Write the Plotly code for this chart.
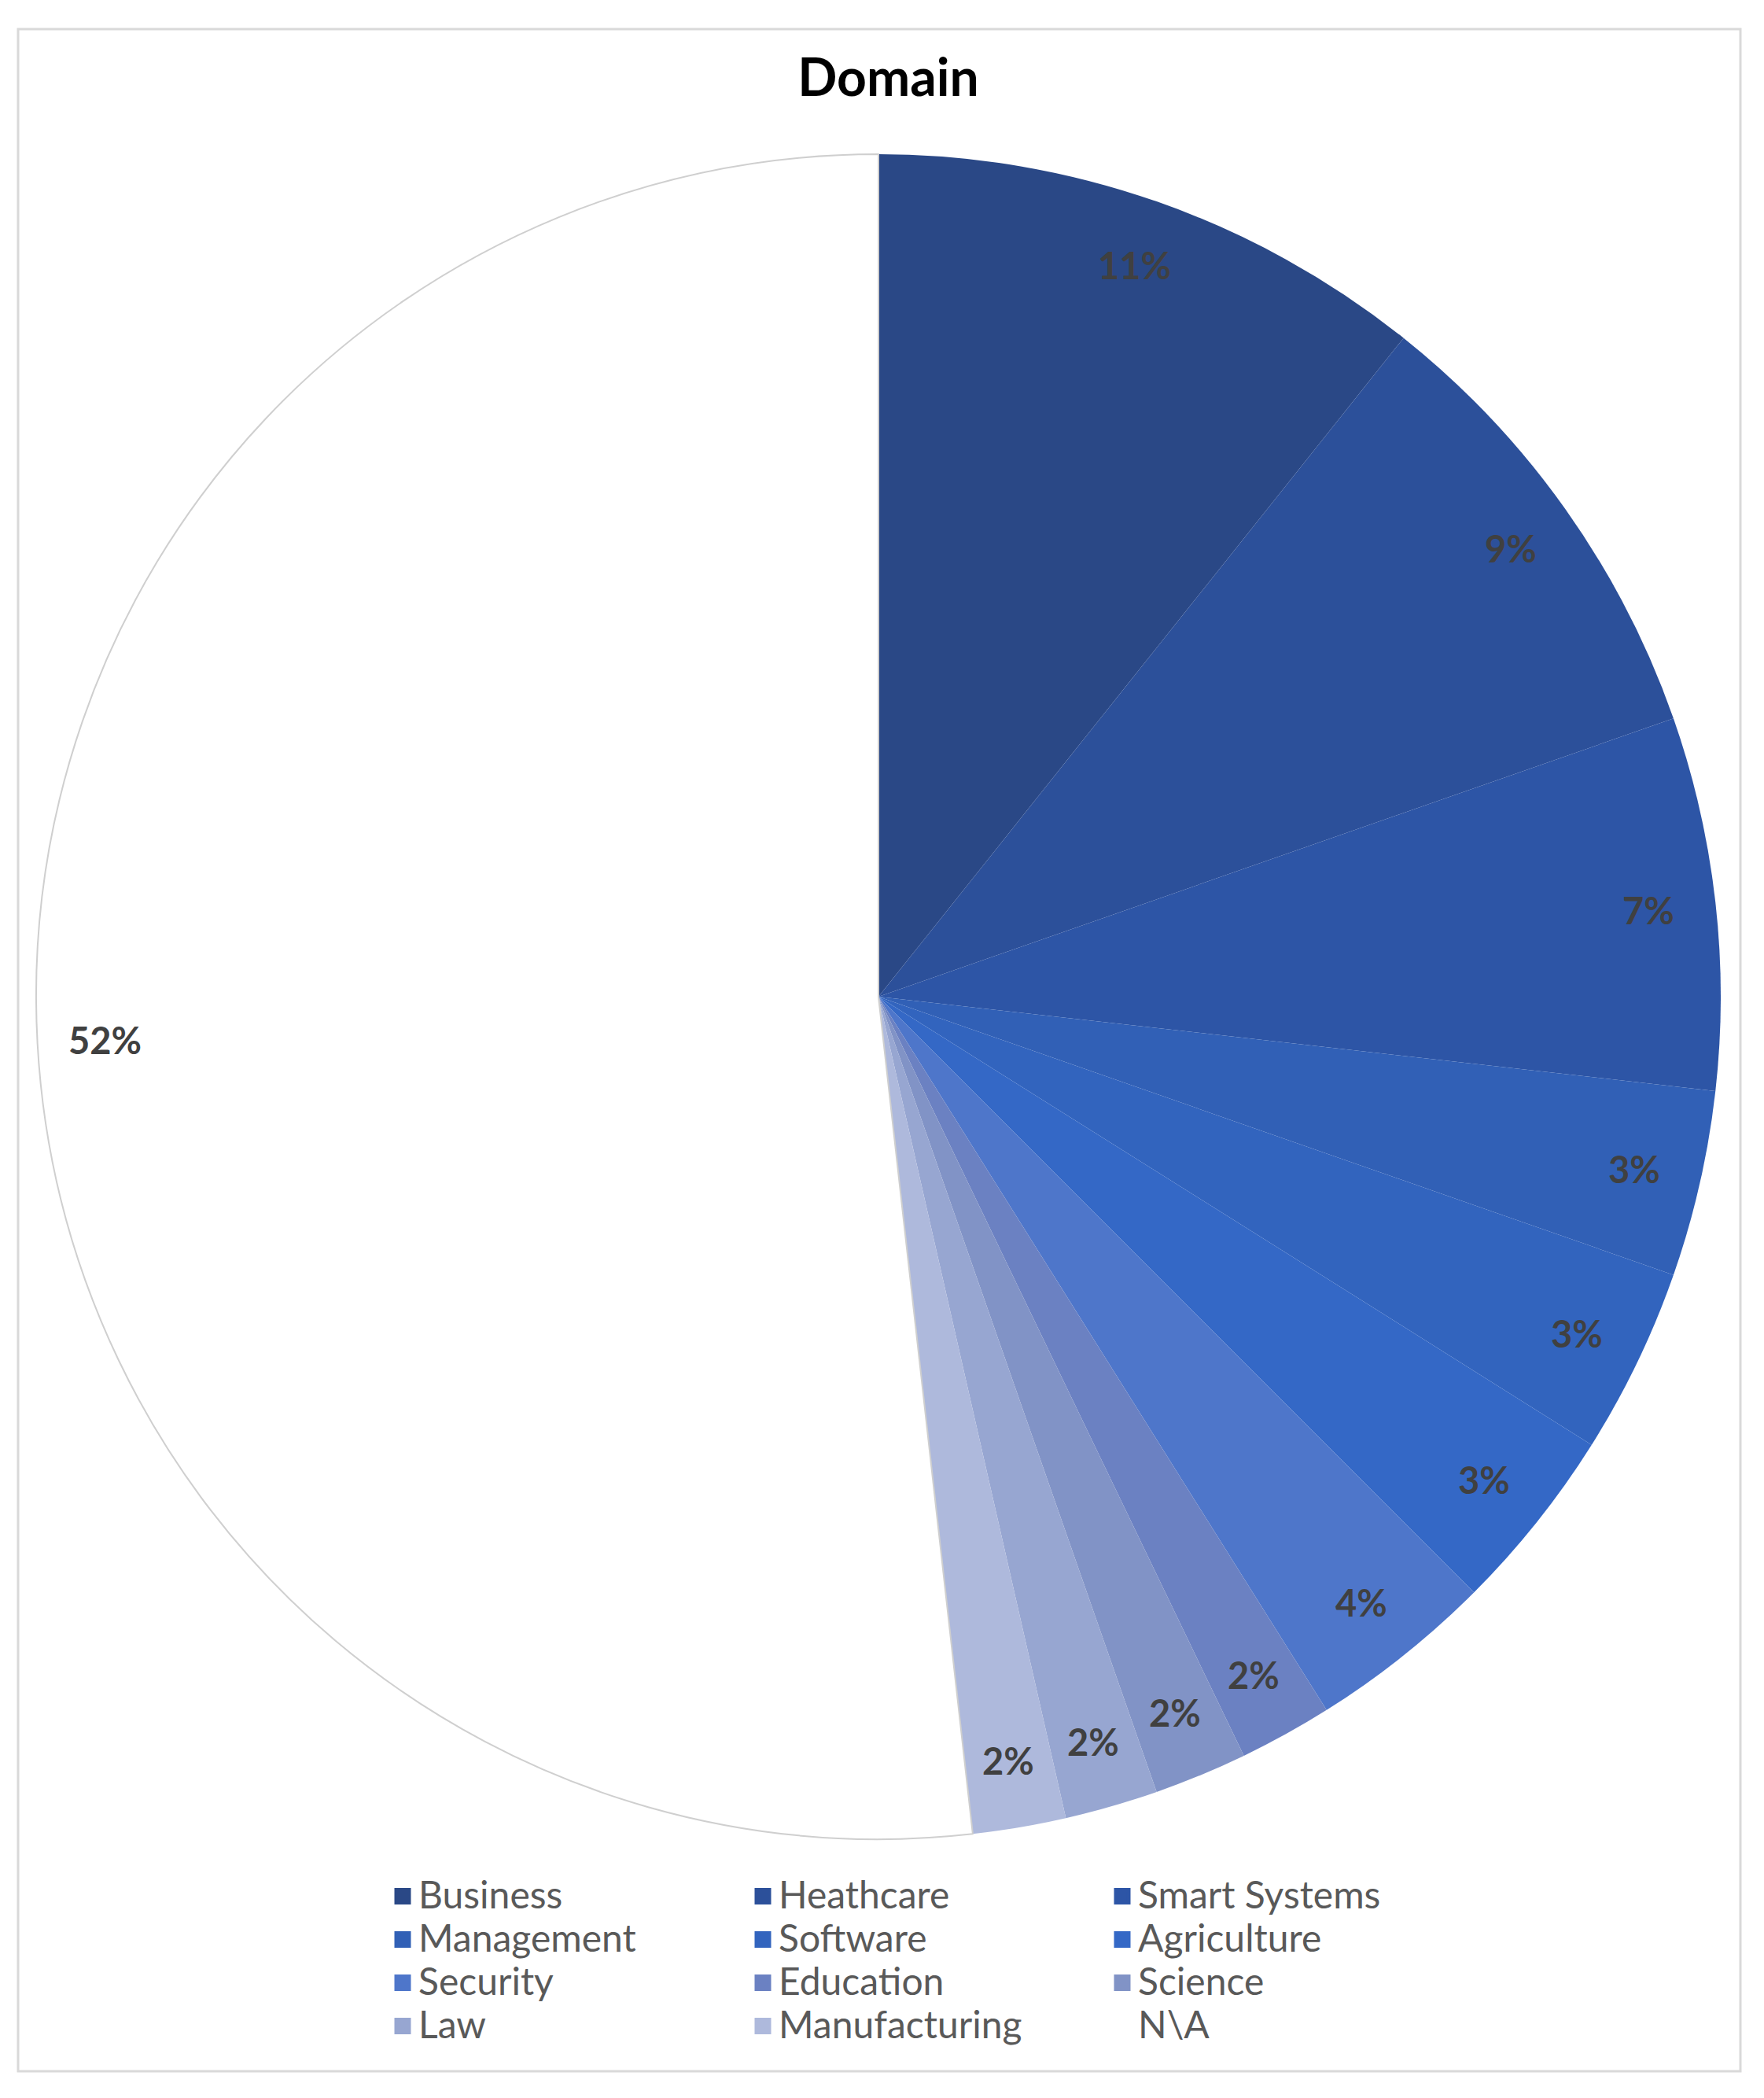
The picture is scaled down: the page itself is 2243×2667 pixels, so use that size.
import math
import plotly.graph_objects as go

# Domain counts (Excel shows the rounded shares in pct_labels)
domains = ["Business", "Heathcare", "Smart Systems", "Management", "Software",
           "Agriculture", "Security", "Education", "Science", "Law",
           "Manufacturing", "N\\A"]
counts = [6, 5, 4, 2, 2, 2, 2, 1, 1, 1, 1, 29]
pct_labels = ["11%", "9%", "7%", "3%", "3%", "3%", "4%", "2%", "2%", "2%", "2%", "52%"]
colors = ["#2A4886", "#2C509A", "#2D55A6", "#3160B6", "#3264BE", "#3468C6",
          "#4E76CA", "#6B81C2", "#8193C6", "#97A6D1", "#AEB9DC", "#FFFFFF"]

W, H = 2243, 2667
OFF = 8  # page body margin

# pie box in pixels -> paper fractions
px0, px1 = 46 - OFF, 2188 - OFF
py0, py1 = 196 - OFF, 2338 - OFF
dom_x = [px0 / W, px1 / W]
dom_y = [1 - py1 / H, 1 - py0 / H]
radius = (px1 - px0) / 2

fig = go.Figure()

fig.add_trace(go.Pie(
    labels=domains,
    values=counts,
    textinfo="none",
    marker=dict(colors=colors,
                line=dict(color=["rgba(0,0,0,0)"] * 11 + ["#CFCFCF"],
                          width=[0] * 11 + [2])),
    sort=False,
    direction="clockwise",
    rotation=0,
    showlegend=False,
    hoverinfo="label+percent",
    domain=dict(x=dom_x, y=dom_y),
))

# data labels near the outer edge, on each slice's mid angle (Excel "best fit")
total = sum(counts)
cx = (dom_x[0] + dom_x[1]) / 2
cy = (dom_y[0] + dom_y[1]) / 2
r_lab = 0.92 * radius
cum = 0
annotations = []
for v, lab in zip(counts, pct_labels):
    theta = 2 * math.pi * (cum + v / 2) / total
    cum += v
    annotations.append(dict(
        x=cx + r_lab * math.sin(theta) / W,
        y=cy + r_lab * math.cos(theta) / H,
        xref="paper", yref="paper", text=f"<b>{lab}</b>", showarrow=False,
        xanchor="center", yanchor="middle",
        font=dict(family="Lato", size=47, color="#404040"),
    ))

# legend laid out in three columns, row-major like the original
legend_names = ["legend", "legend2", "legend3"]
for i, (name, col) in enumerate(zip(domains, colors)):
    fig.add_trace(go.Scatter(
        x=[None], y=[None], mode="markers",
        name=f'<span style="font-size:48px">{name}</span>',
        marker=dict(symbol="square", size=16, color=col,
                    line=dict(color=col, width=5)),
        legend=legend_names[i % 3],
        hoverinfo="skip",
    ))

legend_style = dict(
    orientation="v",
    yanchor="top",
    y=1 - (2378 - OFF) / H,
    xanchor="left",
    font=dict(family="Lato", size=40, color="#595959"),
    bgcolor="rgba(0,0,0,0)",
    itemclick=False,
    itemdoubleclick=False,
)

fig.update_layout(
    width=W,
    height=H,
    margin=dict(l=0, r=0, t=0, b=0),
    paper_bgcolor="white",
    plot_bgcolor="white",
    title=dict(text="<b>Domain</b>", x=0.5, xanchor="center", y=1 - (99 - OFF) / H,
               yanchor="middle",
               font=dict(family="Lato", size=66, color="#000000")),
    xaxis=dict(visible=False),
    yaxis=dict(visible=False),
    legend=dict(legend_style, x=(492 - OFF) / W),
    legend2=dict(legend_style, x=(950 - OFF) / W),
    legend3=dict(legend_style, x=(1407 - OFF) / W),
    annotations=annotations,
    shapes=[dict(type="rect", xref="paper", yref="paper",
                 x0=(23 - OFF) / W, x1=(2213 - OFF) / W,
                 y0=1 - (2633 - OFF) / H, y1=1 - (37 - OFF) / H,
                 line=dict(color="#D9D9D9", width=3), layer="below")],
)

fig.write_html("out.html")
